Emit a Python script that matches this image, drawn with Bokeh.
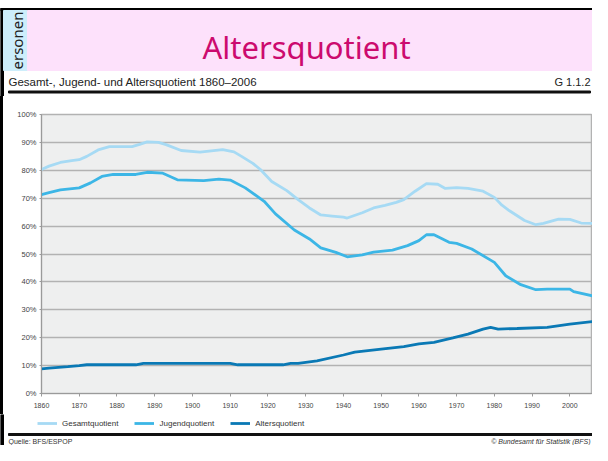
import math
from bokeh.plotting import figure
from bokeh.models import Legend, LegendItem, PrintfTickFormatter, FixedTicker, Range1d
from bokeh.layouts import column
from bokeh.core.properties import value
from bokeh.embed import file_html
from bokeh.resources import INLINE

# ---------------- data ----------------
gesamt_years = [1860, 1862, 1865, 1868, 1870, 1872, 1875, 1878, 1884, 1886, 1888, 1891, 1893, 1897,
                1902, 1905, 1908, 1911, 1913, 1916, 1918, 1921, 1925, 1928, 1931, 1934, 1937, 1940,
                1941, 1945, 1948, 1951, 1954, 1956, 1959, 1962, 1965, 1967, 1970, 1973, 1977, 1980,
                1982, 1984, 1988, 1991, 1993, 1997, 2000, 2003, 2006]
gesamt_values = [80.3, 81.5, 82.8, 83.5, 83.8, 85.0, 87.3, 88.5, 88.5, 89.3, 90.2, 90.0, 89.2, 87.1,
                 86.5, 87.0, 87.4, 86.6, 85.0, 82.5, 80.3, 76.0, 72.7, 69.5, 66.5, 64.0, 63.6, 63.2,
                 62.9, 64.8, 66.5, 67.4, 68.5, 69.5, 72.5, 75.2, 75.0, 73.5, 73.8, 73.5, 72.5, 70.3,
                 67.5, 65.5, 62.0, 60.5, 61.0, 62.5, 62.4, 61.1, 61.0]

jugend_years = [1860, 1862, 1865, 1870, 1873, 1876, 1879, 1885, 1888, 1892, 1896, 1903, 1907, 1910,
                1914, 1919, 1922, 1927, 1931, 1934, 1938, 1941, 1945, 1948, 1953, 1957, 1960, 1962,
                1964, 1968, 1970, 1974, 1980, 1983, 1987, 1991, 1994, 2000, 2001, 2006]
jugend_values = [71.3, 72.0, 73.0, 73.7, 75.5, 77.8, 78.5, 78.5, 79.3, 79.0, 76.6, 76.3, 76.8, 76.5,
                 73.7, 68.9, 64.4, 58.6, 55.4, 52.2, 50.6, 49.0, 49.7, 50.7, 51.4, 53.0, 54.8, 56.9,
                 56.9, 54.2, 53.8, 51.8, 47.0, 42.2, 39.0, 37.2, 37.4, 37.4, 36.5, 35.0]

alters_years = [1860, 1862, 1867, 1870, 1872, 1885, 1887, 1910, 1912, 1924, 1926, 1928, 1933, 1940,
                1943, 1950, 1956, 1960, 1964, 1969, 1973, 1977, 1979, 1981, 1986, 1994, 2000, 2006]
alters_values = [8.8, 9.1, 9.6, 10.0, 10.3, 10.3, 10.8, 10.8, 10.3, 10.3, 10.8, 10.8, 11.7, 13.8,
                 14.8, 15.9, 16.8, 17.8, 18.3, 19.9, 21.3, 23.1, 23.7, 23.1, 23.3, 23.7, 24.9, 25.8]

series_names = ["Gesamtquotient", "Jugendquotient", "Altersquotient"]
x_ticks = [1860, 1870, 1880, 1890, 1900, 1910, 1920, 1930, 1940, 1950, 1960, 1970, 1980, 1990, 2000]
y_ticks = [0, 10, 20, 30, 40, 50, 60, 70, 80, 90, 100]

slide_title = "Altersquotient"
side_tab = "ersonen"
chart_title = "Gesamt-, Jugend- und Altersquotient 1860–2006"
chart_code = "G 1.1.2"
source_note = "Quelle: BFS/ESPOP"
copyright_note = "© Bundesamt für Statistik (BFS)"

# ---------------- styles ----------------
W = 592
HEAD_H, MAIN_H, FOOT_H = 96, 318, 31
COLORS = ["#a6daf4", "#3cb6e6", "#0a79b5"]
FONT = "Liberation Sans"


def deco_figure(height, y0):
    f = figure(width=W, height=height, x_range=Range1d(0, W), y_range=Range1d(y0 + height, y0),
               output_backend="svg", toolbar_location=None, x_axis_type=None, y_axis_type=None,
               min_border=0)
    f.min_border_left = f.min_border_right = f.min_border_top = f.min_border_bottom = 0
    f.grid.visible = False
    f.outline_line_color = None
    f.background_fill_color = "white"
    f.border_fill_color = "white"
    return f


def put_text(f, x, y, txt, size, color="#222222", align="left", font=FONT, angle=0, style="normal"):
    f.text(x=[x], y=[y], text=[txt], text_font=value(font), text_font_size=size,
           text_color=color, text_align=align, text_baseline="middle", angle=angle,
           text_font_style=style)


# ---------------- header ----------------
head = deco_figure(HEAD_H, 0)
head.quad(left=[0], right=[3], top=[8], bottom=[HEAD_H], color="#000000")
head.quad(left=[0], right=[W], top=[8], bottom=[10], color="#000000")
head.quad(left=[3], right=[27], top=[10], bottom=[70], color="#cdeefb")
head.quad(left=[27], right=[W], top=[10], bottom=[70], color="#fde1fb")
head.quad(left=[8], right=[W - 2], top=[90.5], bottom=[92.5], color="#111111")
put_text(head, 16, 69, side_tab, "15px", font="Noto Sans", angle=math.pi / 2)
put_text(head, 306, 46, slide_title, "31px", color="#cc0a6e", align="center", font="Noto Sans")
put_text(head, 8, 81, chart_title, "11.5px")
put_text(head, 590, 81, chart_code, "11px", align="right")

# ---------------- main chart ----------------
p = figure(width=W, height=MAIN_H, x_range=Range1d(1860, 2006), y_range=Range1d(0, 100),
           output_backend="svg", toolbar_location=None,
           min_border_left=41, min_border_right=0, min_border_top=18, min_border_bottom=21)
p.background_fill_color = "#eeefef"
p.border_fill_alpha = 0
p.styles = {"background": "linear-gradient(to right, #000 0px, #000 3px, #fff 3px, #fff 100%)"}
p.outline_line_color = "#b2b2b2"
p.outline_line_width = 1.5

r1 = p.line(gesamt_years, gesamt_values, line_color=COLORS[0], line_width=2.8)
r2 = p.line(jugend_years, jugend_values, line_color=COLORS[1], line_width=2.8)
r3 = p.line(alters_years, alters_values, line_color=COLORS[2], line_width=2.8)

p.xaxis.ticker = FixedTicker(ticks=x_ticks)
p.yaxis.ticker = FixedTicker(ticks=y_ticks)
p.yaxis.formatter = PrintfTickFormatter(format="%d%%")

for ax in (p.xaxis[0], p.yaxis[0]):
    ax.axis_line_color = "#9a9a9a"
    ax.axis_line_width = 1
    ax.major_tick_line_color = "#9a9a9a"
    ax.minor_tick_line_color = None
    ax.major_tick_in = 0
    ax.major_label_text_font = FONT
    ax.major_label_text_color = "#444444"
p.xaxis.major_tick_out = 3
p.xaxis.major_label_standoff = 6
p.xaxis.major_label_text_font_size = "7px"
p.yaxis.major_tick_out = 2
p.yaxis.major_label_standoff = 3
p.yaxis.major_label_text_font_size = "7.5px"

p.xgrid.grid_line_color = None
p.ygrid.grid_line_color = "#b2b2b2"
p.ygrid.grid_line_width = 1.5

# ---------------- footer (legend + source) ----------------
Y0 = HEAD_H + MAIN_H
foot = deco_figure(FOOT_H, Y0)
foot.quad(left=[0], right=[3], top=[Y0], bottom=[Y0 + FOOT_H], color="#000000")
foot.quad(left=[8], right=[W], top=[433], bottom=[435], color="#111111")
put_text(foot, 8, 441, source_note, "7px", color="#333333")
put_text(foot, 590, 441, copyright_note, "7px", color="#333333", align="right", style="italic")

# legend keys: the same series, lying outside this strip's visible range
k1 = foot.line(gesamt_years, gesamt_values, line_color=COLORS[0], line_width=2.8)
k2 = foot.line(jugend_years, jugend_values, line_color=COLORS[1], line_width=2.8)
k3 = foot.line(alters_years, alters_values, line_color=COLORS[2], line_width=2.8)
legend = Legend(items=[LegendItem(label=series_names[0], renderers=[k1]),
                       LegendItem(label=series_names[1], renderers=[k2]),
                       LegendItem(label=series_names[2], renderers=[k3])],
                orientation="horizontal", location=(37, 17))
legend.label_text_font = FONT
legend.label_text_font_size = "8px"
legend.label_text_color = "#333333"
legend.glyph_width = 20
legend.glyph_height = 10
legend.label_height = 10
legend.label_standoff = 5
legend.spacing = 16
legend.padding = 0
legend.margin = 0
legend.border_line_color = None
legend.background_fill_alpha = 0
foot.add_layout(legend, "center")

for f in (head, p, foot):
    try:
        f.frame_align = False
    except Exception:
        pass

layout = column(head, p, foot, spacing=0)
open("out.html", "w").write(file_html(layout, INLINE))
